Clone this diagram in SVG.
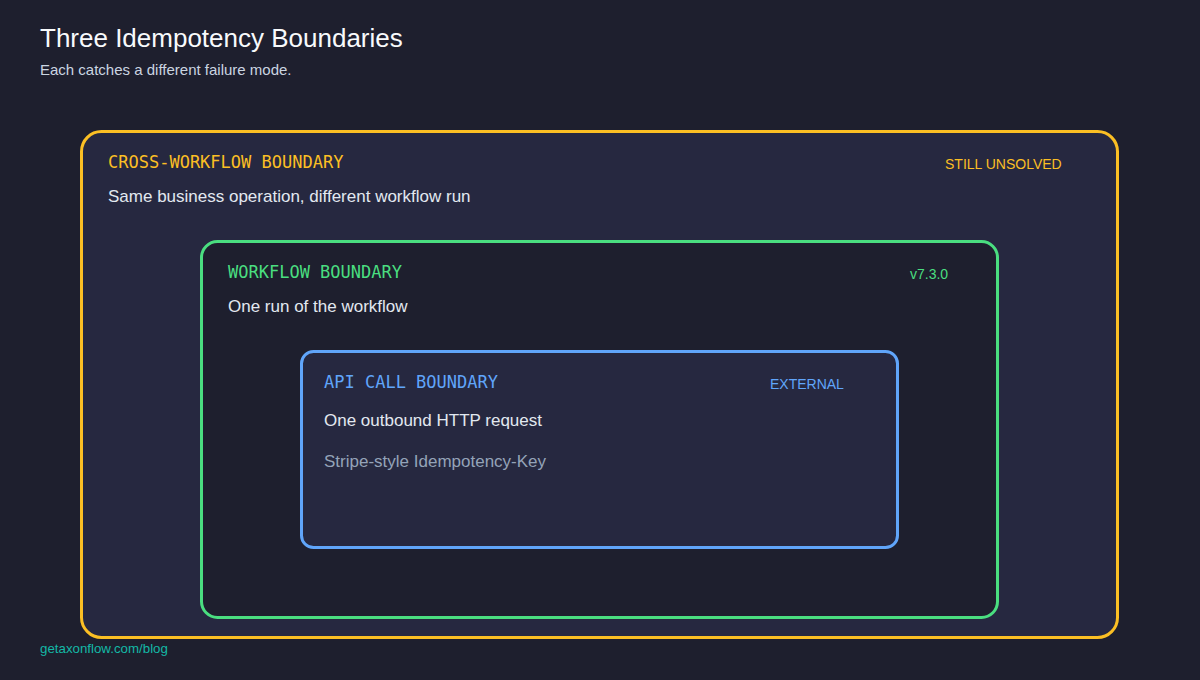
<svg xmlns="http://www.w3.org/2000/svg" width="1200" height="680" viewBox="0 0 1200 680">
<style>
.sans{font-family:"Liberation Sans",Arial,sans-serif}
.mono{font-family:"DejaVu Sans Mono","Liberation Mono",monospace;font-size:17px}
.body{font-family:"Liberation Sans",Arial,sans-serif;font-size:17px;fill:#e2e8f0}
.tag{font-family:"Liberation Sans",Arial,sans-serif;font-size:14px}
</style>
<rect width="1200" height="680" fill="#1e1f2e"/>
<text x="40" y="47" class="sans" font-size="26" fill="#f8fafc">Three Idempotency Boundaries</text>
<text x="40" y="75" class="sans" font-size="15" fill="#cbd5e1">Each catches a different failure mode.</text>
<g id="cross-workflow">
<rect x="81.5" y="131.5" width="1036" height="506" rx="20" fill="#262840" stroke="#fbbf24" stroke-width="3"/>
<text x="108" y="168" class="mono" fill="#fbbf24">CROSS-WORKFLOW BOUNDARY</text>
<text x="108" y="202" class="body">Same business operation, different workflow run</text>
<text x="945" y="169" class="tag" fill="#fbbf24">STILL UNSOLVED</text>
</g>
<g id="workflow">
<rect x="201.5" y="241.5" width="796" height="376" rx="16" fill="#1e1f2e" stroke="#4ade80" stroke-width="3"/>
<text x="228" y="278" class="mono" fill="#4ade80">WORKFLOW BOUNDARY</text>
<text x="228" y="312" class="body">One run of the workflow</text>
<text x="910" y="279" class="tag" fill="#4ade80">v7.3.0</text>
</g>
<g id="api-call">
<rect x="301.5" y="351.5" width="596" height="196" rx="12" fill="#262840" stroke="#60a5fa" stroke-width="3"/>
<text x="324" y="388" class="mono" fill="#60a5fa">API CALL BOUNDARY</text>
<text x="324" y="426" class="body">One outbound HTTP request</text>
<text x="324" y="467" class="body" style="fill:#94a3b8">Stripe-style Idempotency-Key</text>
<text x="770" y="389" class="tag" fill="#60a5fa">EXTERNAL</text>
</g>
<g id="connectors"/>
<text x="40" y="653" class="sans" font-size="13.3" fill="#14b8a6">getaxonflow.com/blog</text>
</svg>
